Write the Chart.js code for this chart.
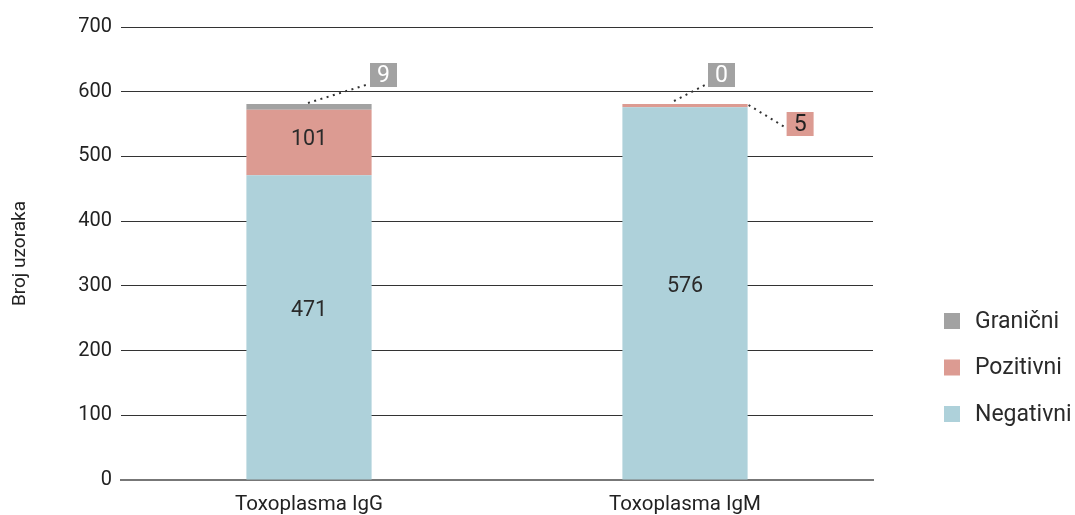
<!DOCTYPE html>
<html>
<head>
<meta charset="utf-8">
<script src="https://cdn.jsdelivr.net/npm/chart.js@4.4.0/dist/chart.umd.min.js"></script>
<style>
  html, body { margin:0; padding:0; background:#fff; }
  #wrap { width:1075px; height:515px; position:relative; }
</style>
</head>
<body>
<div id="wrap"><canvas id="chart"></canvas></div>
<script>
const categories = ['Toxoplasma IgG', 'Toxoplasma IgM'];
const negativni = [471, 576];
const pozitivni = [101, 5];
const granicni = [9, 0];
const yMax = 700;
const yStep = 100;

const COLORS = { neg:'#aed1da', poz:'#dc9b92', gra:'#a2a2a2' };
const FONT = 'Roboto, "Open Sans", sans-serif';

// small values get a callout box instead of an inside label
// key = datasetIndex-index ; offsets in px relative to the bar
const callouts = {
  '2-0': { anchor:'top', ax:-1, ay:-1, bx:61, by:-41 },
  '2-1': { anchor:'top', ax:-11, ay:-3, bx:23, by:-41 },
  '1-1': { anchor:'right', ax:1, ay:1, bx:39, by:8 }
};
// nudges for the inside labels (px, up is negative)
const labelNudge = { '0-0':-18, '1-0':-4, '0-1':-8 };

const labelPlugin = {
  id:'segLabels',
  afterDatasetsDraw(chart){
    const ctx = chart.ctx;
    chart.data.datasets.forEach((ds, di) => {
      const meta = chart.getDatasetMeta(di);
      meta.data.forEach((bar, i) => {
        const v = ds.data[i];
        const key = di + '-' + i;
        ctx.save();
        if (callouts[key]) {
          const c = callouts[key];
          const half = bar.width / 2;
          let sx = bar.x + c.ax, sy = bar.y + c.ay;
          if (c.anchor === 'right') sx = bar.x + half + c.ax;
          const bx = (c.anchor === 'right' ? bar.x + half : bar.x) + c.bx;
          const by = bar.y + c.by;
          const bw = 27, bh = 24;
          ctx.strokeStyle = '#333';
          ctx.lineWidth = 2;
          ctx.setLineDash([2, 4.5]);
          ctx.beginPath();
          ctx.moveTo(sx, sy);
          if (c.anchor === 'right') ctx.lineTo(bx - 2, by + bh / 2 + 3);
          else ctx.lineTo(bx - 1, by + bh - 3);
          ctx.stroke();
          ctx.setLineDash([]);
          ctx.fillStyle = ds.backgroundColor;
          ctx.fillRect(bx, by, bw, bh);
          ctx.fillStyle = di === 2 ? '#fff' : '#222';
          ctx.font = '23px ' + FONT;
          ctx.textAlign = 'center';
          ctx.textBaseline = 'middle';
          ctx.fillText(String(v), bx + bw / 2, by + bh / 2 + 1);
        } else if (v > 0) {
          ctx.fillStyle = '#2a2a2a';
          ctx.font = '21.5px ' + FONT;
          ctx.textAlign = 'center';
          ctx.textBaseline = 'middle';
          ctx.fillText(String(v), bar.x, (bar.y + bar.base) / 2 + 1 + (labelNudge[key] || 0));
        }
        ctx.restore();
      });
    });
  }
};

const legendPlugin = {
  id:'sideLegend',
  afterDraw(chart){
    const ctx = chart.ctx;
    const items = chart.data.datasets.slice().reverse();
    const x0 = 944, y0 = 321, gap = 46.5, box = 16;
    ctx.save();
    items.forEach((ds, k) => {
      const cy = y0 + k * gap;
      ctx.fillStyle = ds.backgroundColor;
      ctx.fillRect(x0, cy - box / 2, box, box);
      ctx.fillStyle = '#2a2a2a';
      ctx.font = '23px ' + FONT;
      ctx.textAlign = 'left';
      ctx.textBaseline = 'middle';
      ctx.fillText(ds.label, 975, cy + 1);
    });
    ctx.restore();
  }
};

new Chart(document.getElementById('chart'), {
  type:'bar',
  data:{
    labels: categories,
    datasets:[
      { label:'Negativni', data:negativni, backgroundColor:COLORS.neg },
      { label:'Pozitivni', data:pozitivni, backgroundColor:COLORS.poz },
      { label:'Granični', data:granicni, backgroundColor:COLORS.gra }
    ]
  },
  options:{
    responsive:true,
    maintainAspectRatio:false,
    animation:false,
    categoryPercentage:1,
    barPercentage:0.333,
    layout:{ padding:{ top:27, right:202, bottom:0, left:0 } },
    plugins:{ legend:{ display:false }, tooltip:{ enabled:false } },
    scales:{
      x:{
        stacked:true,
        afterFit(scale){ scale.height = 35; },
        grid:{ display:false },
        border:{ display:true, color:'#777', width:2 },
        ticks:{ color:'#222', font:{ family:FONT, size:20.5 }, padding:5 }
      },
      y:{
        stacked:true,
        min:0, max:yMax,
        afterFit(scale){ scale.width = 121; },
        ticks:{ stepSize:yStep, color:'#222', font:{ family:FONT, size:20 }, padding:9 },
        grid:{ color:'#333', lineWidth:1, drawTicks:false },
        border:{ display:false },
        title:{ display:true, text:'Broj uzoraka', color:'#222', font:{ family:FONT, size:19 }, padding:{ top:9, bottom:0 } }
      }
    }
  },
  plugins:[labelPlugin, legendPlugin]
});
</script>
</body>
</html>
